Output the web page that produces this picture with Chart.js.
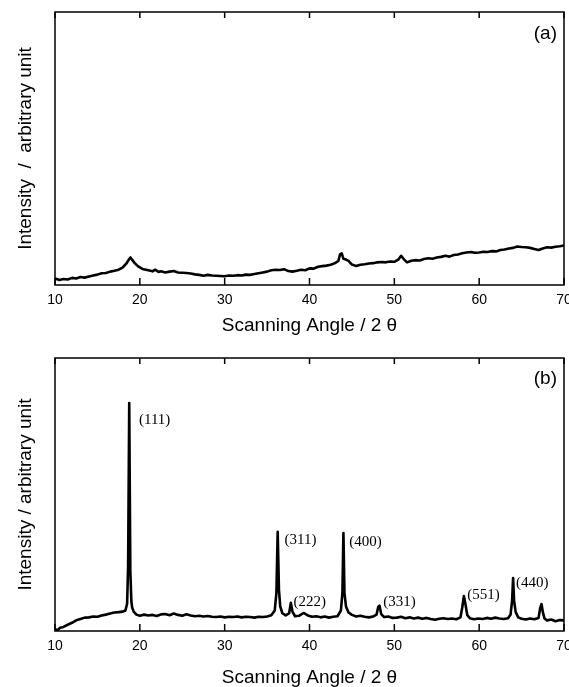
<!DOCTYPE html>
<html lang="en">
<head>
<meta charset="UTF-8">
<title>XRD patterns</title>
<script src="https://cdn.jsdelivr.net/npm/chart.js"></script>
<style>
    body { margin: 0; background: #fff; }
    .wrap { position: relative; width: 569px; height: 687px; }
    canvas { position: absolute; left: 0; }
    #chartA { top: 0; }
    #chartB { top: 340px; }
</style>
</head>
<body>
<div class="wrap">
    <canvas id="chartA" width="569" height="340"></canvas>
    <canvas id="chartB" width="569" height="347"></canvas>
</div>
<script>
// x axis ticks
const angleTicks = [10, 20, 30, 40, 50, 60, 70];

// panel (a): scanning angle and intensity (arbitrary, 0-100)
const angleA = [10, 10.5, 11, 11.5, 12, 12.5, 13, 13.5, 14, 14.5, 15, 15.5, 16, 16.5, 17, 17.5, 18, 18.4, 18.7, 18.9,
    19.1, 19.4, 19.8, 20.3, 21, 21.5, 21.8, 22.2, 22.5, 23, 23.5, 24, 24.5, 25, 25.5, 26, 26.5, 27, 27.5, 28,
    28.5, 29, 29.5, 30, 30.5, 31, 31.5, 32, 32.5, 33, 33.5, 34, 34.5, 35, 35.5, 36, 36.5, 37, 37.5, 38,
    38.5, 39, 39.5, 40, 40.5, 41, 41.5, 42, 42.5, 43, 43.4, 43.6, 43.8, 44.0, 44.3, 44.6, 45, 45.5, 46, 46.5,
    47, 47.5, 48, 48.5, 49, 49.5, 50, 50.5, 50.8, 51.1, 51.5, 52, 52.5, 53, 53.5, 54, 54.5, 55, 55.5, 56,
    56.5, 57, 57.5, 58, 58.5, 59, 59.5, 60, 60.5, 61, 61.5, 62, 62.5, 63, 63.5, 64, 64.5, 65, 65.5, 66,
    66.5, 67, 67.5, 68, 68.5, 69, 69.5, 70];
const intensityA = [2.4, 1.8, 2.2, 2.0, 2.6, 2.4, 2.9, 2.7, 3.1, 3.5, 3.8, 4.3, 4.4, 4.9, 5.2, 5.6, 6.5, 7.8, 9.3, 10.1,
    9.2, 8.0, 6.8, 5.9, 5.4, 5.0, 5.6, 4.8, 5.0, 4.6, 4.9, 5.1, 4.6, 4.5, 4.4, 4.2, 3.9, 3.7, 3.4, 3.7,
    3.5, 3.4, 3.3, 3.2, 3.5, 3.4, 3.6, 3.5, 3.8, 3.7, 4.0, 4.3, 4.6, 4.9, 5.4, 5.6, 5.5, 5.8, 5.1, 4.9,
    5.2, 5.6, 5.4, 6.1, 6.0, 6.7, 6.9, 7.1, 7.4, 8.0, 8.8, 11.2, 11.6, 9.6, 9.3, 8.8, 7.5, 7.0, 7.4, 7.6,
    7.9, 8.0, 8.3, 8.4, 8.3, 8.6, 8.5, 9.4, 10.7, 9.5, 8.3, 8.9, 9.1, 9.0, 9.5, 9.8, 9.6, 10.1, 10.3, 10.7,
    10.4, 11.0, 11.2, 11.6, 11.9, 12.1, 11.8, 11.9, 12.2, 12.1, 12.4, 12.3, 12.8, 13.0, 13.4, 13.6, 14.1, 13.9, 13.8, 13.6,
    13.2, 12.8, 13.4, 13.8, 13.7, 14.0, 14.2, 14.5];

// panel (b)
const angleB = [10, 10.3, 10.6, 11, 11.5, 12, 12.5, 13, 13.5, 14, 14.5, 15, 15.5, 16, 16.5, 17, 17.5, 18, 18.3, 18.5,
    18.62, 18.75, 18.88, 19.0, 19.1, 19.3, 19.6, 20, 20.5, 21, 21.5, 22, 22.5, 23, 23.5, 24, 24.5, 25, 25.5, 26,
    26.5, 27, 27.5, 28, 28.5, 29, 29.5, 30, 30.5, 31, 31.5, 32, 32.5, 33, 33.5, 34, 34.5, 35, 35.5, 35.9,
    36.1, 36.25, 36.4, 36.55, 36.8, 37.2, 37.6, 37.8, 38.0, 38.3, 38.8, 39.3, 39.8, 40.3, 40.8, 41.3, 41.8, 42.3, 42.8, 43.3,
    43.7, 43.88, 44.0, 44.12, 44.3, 44.6, 45, 45.5, 46, 46.5, 47, 47.5, 47.9, 48.1, 48.25, 48.45, 48.8, 49.3, 49.8, 50.3,
    50.8, 51.3, 51.8, 52.3, 52.8, 53.3, 53.8, 54.3, 54.8, 55.3, 55.8, 56.3, 56.8, 57.3, 57.8, 58.0, 58.2, 58.4, 58.6, 58.9,
    59.4, 59.9, 60.4, 60.9, 61.4, 61.9, 62.4, 62.9, 63.4, 63.7, 63.88, 64.0, 64.12, 64.3, 64.6, 65, 65.5, 66, 66.5, 67.0,
    67.2, 67.35, 67.5, 67.7, 68, 68.5, 69, 69.5, 70];
const intensityB = [0.6, 0.3, 1.2, 1.5, 2.3, 3.0, 3.9, 4.4, 4.9, 5.0, 5.3, 5.2, 5.7, 6.0, 6.4, 6.8, 6.9, 7.1, 7.5, 10,
    24, 83.5, 22, 11, 8.5, 7.0, 6.0, 5.6, 6.0, 5.7, 5.9, 5.5, 6.1, 6.2, 5.8, 6.4, 5.9, 5.6, 6.1, 5.7,
    5.4, 5.6, 5.3, 5.5, 5.2, 5.1, 5.3, 5.0, 5.2, 5.1, 5.3, 5.0, 5.2, 5.1, 4.9, 5.2, 5.1, 5.3, 5.8, 7.5,
    14, 36.3, 15, 9, 6.5, 5.7, 6.5, 10.3, 7.0, 5.4, 5.6, 6.6, 5.7, 5.2, 5.4, 5.0, 5.3, 4.9, 5.2, 5.4,
    7.5, 14, 35.9, 14, 9, 6.8, 5.9, 5.3, 5.6, 5.2, 5.0, 5.3, 6.0, 8.8, 9.3, 6.2, 5.1, 5.3, 4.8, 4.9,
    5.2, 4.7, 5.0, 4.6, 4.9, 4.5, 4.8, 4.4, 4.1, 4.5, 4.7, 4.4, 4.6, 4.3, 5.0, 8.5, 12.8, 9.5, 5.8, 4.7,
    4.3, 4.6, 4.4, 4.8, 4.5, 4.9, 4.6, 4.4, 4.7, 6.0, 11, 19.4, 11, 7, 5.0, 4.5, 4.2, 4.6, 4.3, 4.8,
    8.5, 9.9, 7.0, 4.6, 3.9, 4.2, 3.6, 4.0, 3.9];

// reflection labels for panel (b), anchored in data units
const peakNames = ['(111)', '(311)', '(400)', '(222)', '(331)', '(551)', '(440)'];
const peakNameAngle = [19.9, 37.05, 44.7, 38.1, 48.7, 58.6, 64.35];
const peakNameIntensity = [77.3, 33.3, 32.6, 10.6, 10.6, 13.2, 17.6];

const SANS = "'Liberation Sans', Arial, sans-serif";
const SERIF = "'Liberation Serif', 'Times New Roman', serif";

// frame, inward ticks, panel letter and peak labels
const decorations = {
    id: 'decorations',
    afterDraw(chart, args, opts) {
        const ctx = chart.ctx;
        const a = chart.chartArea;
        const xs = chart.scales.x;
        const ys = chart.scales.y;
        ctx.save();
        ctx.strokeStyle = '#000';
        ctx.lineWidth = 1.5;
        ctx.strokeRect(a.left, a.top, a.right - a.left, a.bottom - a.top);
        ctx.beginPath();
        angleTicks.forEach(v => {
            const px = xs.getPixelForValue(v);
            ctx.moveTo(px, a.bottom);
            ctx.lineTo(px, a.bottom - 7);
            ctx.moveTo(px, a.top);
            ctx.lineTo(px, a.top + 6);
        });
        ctx.stroke();

        ctx.fillStyle = '#000';
        ctx.font = '19px ' + SANS;
        ctx.textAlign = 'right';
        ctx.textBaseline = 'middle';
        ctx.fillText(opts.letter, a.right - 7, a.top + opts.letterOffset);

        if (opts.peaks) {
            ctx.font = '15px ' + SERIF;
            ctx.textAlign = 'left';
            peakNames.forEach((name, i) => {
                ctx.fillText(name, xs.getPixelForValue(peakNameAngle[i]), ys.getPixelForValue(peakNameIntensity[i]));
            });
        }
        ctx.restore();
    }
};

function buildPanel(id, angles, intensities, yTitle, letter, letterOffset, topPad, axisHeight, titlePad, peaks) {
    new Chart(document.getElementById(id), {
        type: 'line',
        data: {
            datasets: [{
                data: angles.map((a, i) => ({ x: a, y: intensities[i] })),
                borderColor: '#000',
                borderWidth: 2.6,
                borderJoinStyle: 'round',
                pointRadius: 0,
                tension: 0,
                fill: false
            }]
        },
        options: {
            responsive: false,
            animation: false,
            events: [],
            layout: { padding: { top: topPad, right: 5, left: 0, bottom: 0 } },
            plugins: {
                legend: { display: false },
                tooltip: { enabled: false },
                decorations: { letter: letter, letterOffset: letterOffset, peaks: peaks }
            },
            scales: {
                x: {
                    type: 'linear',
                    min: 10,
                    max: 70,
                    afterBuildTicks: scale => { scale.ticks = angleTicks.map(v => ({ value: v })); },
                    afterFit: scale => {
                        scale.height = axisHeight;
                        scale.paddingLeft = 0;
                        scale.paddingRight = 0;
                    },
                    grid: { display: false, drawTicks: false },
                    border: { display: false },
                    ticks: {
                        color: '#000',
                        font: { family: SANS, size: 14 },
                        padding: 7,
                        maxRotation: 0,
                        autoSkip: false
                    },
                    title: {
                        display: true,
                        text: 'Scanning Angle / 2 θ',
                        color: '#000',
                        font: { family: SANS, size: 19, lineHeight: 1.0 },
                        padding: { top: 0, bottom: titlePad }
                    }
                },
                y: {
                    min: 0,
                    max: 100,
                    afterFit: scale => { scale.width = 55; },
                    grid: { display: false, drawTicks: false },
                    border: { display: false },
                    ticks: { display: false },
                    title: {
                        display: true,
                        text: yTitle,
                        color: '#000',
                        font: { family: SANS, size: 19, lineHeight: 1.0 },
                        padding: { top: 16, bottom: 0 }
                    }
                }
            }
        },
        plugins: [decorations]
    });
}

buildPanel('chartA', angleA, intensityA, 'Intensity  /  arbitrary unit', '(a)', 22, 12, 55, 5, false);
buildPanel('chartB', angleB, intensityB, 'Intensity / arbitrary unit', '(b)', 21, 18, 56, 0, true);
</script>
</body>
</html>
